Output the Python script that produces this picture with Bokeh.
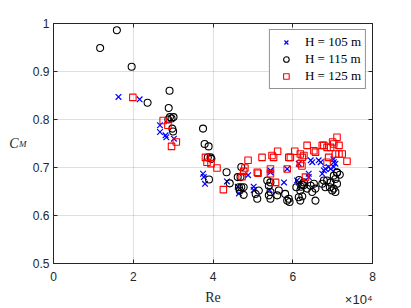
from bokeh.plotting import figure
from bokeh.models import (FixedTicker, LinearAxis, Legend, LegendItem, Title)
from bokeh.embed import file_html
from bokeh.resources import INLINE

# ---- data (Re, C_M) ----
re_105 = [16300, 21600, 26700, 26700, 28100, 28300, 30200,
          37500, 37700, 38000, 43500, 46200, 46500, 48800, 50200, 50200,
          54400, 54400, 54200, 57800, 58600, 61500, 61100, 61500,
          64500, 64900, 64000, 64000, 66500, 67000, 67800, 68200, 67400,
          69000, 69500, 70300, 70300, 70700, 70200]
cm_105 = [0.847, 0.842, 0.788, 0.774, 0.767, 0.763, 0.760,
          0.687, 0.680, 0.666, 0.671, 0.660, 0.646, 0.684, 0.660, 0.653,
          0.694, 0.690, 0.653, 0.669, 0.697, 0.708, 0.673, 0.669,
          0.715, 0.711, 0.687, 0.680, 0.715, 0.711, 0.694, 0.697, 0.687,
          0.701, 0.697, 0.701, 0.711, 0.708, 0.717]

re_115 = [11700, 15900, 19600, 23600,
          29100, 28900, 29200, 28800, 29600, 30100, 29800, 30000,
          37500, 37900, 38900, 38700, 39400, 39600, 39000,
          43400, 44200, 47100, 46200, 46900, 46500, 47100, 47700, 46700, 47700,
          53600, 54400, 54000, 51500, 50700, 51100, 54400, 54000, 54400,
          56500, 56100, 58100, 59000, 58600, 59200,
          60900, 61900, 61500, 61900, 62300, 62700, 61600, 62100,
          62400, 62800, 64500, 65300, 65700, 64900, 65700, 63600,
          67400, 67800, 68600, 69500, 68200, 69300, 70300, 69900, 70700,
          70300, 70700, 71100, 71800, 71100, 71100]
cm_115 = [0.949, 0.986, 0.910, 0.835,
          0.860, 0.824, 0.805, 0.800, 0.802, 0.805, 0.781, 0.775,
          0.781, 0.749, 0.744, 0.721, 0.721, 0.718, 0.675,
          0.690, 0.667, 0.701, 0.680, 0.680, 0.659, 0.659, 0.659, 0.652, 0.643,
          0.673, 0.669, 0.662, 0.652, 0.645, 0.635, 0.649, 0.642, 0.635,
          0.652, 0.642, 0.645, 0.635, 0.631, 0.628,
          0.659, 0.652, 0.638, 0.631, 0.664, 0.663, 0.674, 0.660,
          0.640, 0.669, 0.662, 0.666, 0.656, 0.649, 0.631, 0.656,
          0.666, 0.673, 0.673, 0.669, 0.659, 0.659, 0.656, 0.652, 0.649,
          0.683, 0.676, 0.690, 0.685, 0.666, 0.689]

re_125 = [19900, 27500, 28700, 29600, 30800,
          38100, 38500, 39500, 41000, 42600,
          48000, 47700, 47300, 48800, 51100, 51300, 52300,
          54400, 54400, 54800, 55200, 56200, 55700,
          58600, 59000, 59400, 60500, 61900, 61900, 62300,
          63600, 62800, 62400, 63200, 65300, 65700, 67400, 67800,
          68600, 69500, 70000, 70300, 71100, 71600, 71600, 72400,
          70700, 69000, 68600, 73600]
cm_125 = [0.846, 0.798, 0.788, 0.744, 0.753,
          0.721, 0.711, 0.708, 0.699, 0.654,
          0.699, 0.692, 0.681, 0.715, 0.690, 0.688, 0.721,
          0.697, 0.687, 0.725, 0.721, 0.734, 0.669,
          0.697, 0.721, 0.721, 0.734, 0.728, 0.708, 0.703,
          0.746, 0.725, 0.721, 0.680, 0.735, 0.732, 0.746, 0.746,
          0.742, 0.742, 0.753, 0.749, 0.763, 0.746, 0.728, 0.728,
          0.728, 0.721, 0.711, 0.713]

x_ticks = [0, 20000, 40000, 60000, 80000]
x_tick_labels = ["0", "2", "4", "6", "8"]
y_ticks = [0.5, 0.6, 0.7, 0.8, 0.9, 1.0]
y_tick_labels = ["0.5", "0.6", "0.7", "0.8", "0.9", "1"]
series_labels = ["H = 105 m", "H = 115 m", "H = 125 m"]

AX = "#262626"

p = figure(width=411, height=308, x_range=(0, 80000), y_range=(0.5, 1.0),
           output_backend="svg", toolbar_location=None,
           min_border_left=53, min_border_right=39,
           min_border_top=23, min_border_bottom=45)
p.background_fill_color = "white"
p.border_fill_color = "white"
p.outline_line_color = AX
p.outline_line_width = 1

p.xaxis.ticker = FixedTicker(ticks=x_ticks)
p.yaxis.ticker = FixedTicker(ticks=y_ticks)
p.xaxis.major_label_overrides = dict(zip(x_ticks, x_tick_labels))
p.yaxis.major_label_overrides = dict(zip(y_ticks, y_tick_labels))

for ax in (p.xaxis[0], p.yaxis[0]):
    ax.major_tick_in = 4
    ax.major_tick_out = 0
    ax.minor_tick_in = 0
    ax.minor_tick_out = 0
    ax.axis_line_color = AX
    ax.major_tick_line_color = AX
    ax.major_label_text_color = AX
    ax.major_label_text_font = "Liberation Sans"
    ax.major_label_text_font_size = "12px"
p.xaxis.major_label_standoff = 8
p.yaxis.major_label_standoff = 4

# x label
p.xaxis.axis_label = "Re"
p.xaxis.axis_label_text_font = "Liberation Serif"
p.xaxis.axis_label_text_font_style = "normal"
p.xaxis.axis_label_text_font_size = "14px"
p.xaxis.axis_label_text_color = AX
p.xaxis.axis_label_standoff = 6

# box: top and right axes with ticks only
for loc in ("above", "right"):
    ticks = x_ticks if loc == "above" else y_ticks
    a = LinearAxis(ticker=FixedTicker(ticks=ticks),
                   major_label_overrides={t: "" for t in ticks},
                   major_tick_in=4, major_tick_out=0, minor_tick_in=0, minor_tick_out=0,
                   axis_line_color=AX, major_tick_line_color=AX,
                   major_label_standoff=0)
    p.add_layout(a, loc)

# y label "C_M": two label-only axes, M next to tick labels, C outside it
for txt, size, standoff, baseline in (("M", "9px", 3, "middle"), ("C", "14px", -2, "bottom")):
    a = LinearAxis(ticker=FixedTicker(ticks=[]), axis_line_color=None,
                   major_tick_line_color=None, minor_tick_line_color=None,
                   major_tick_in=0, major_tick_out=0, minor_tick_in=0, minor_tick_out=0,
                   major_label_standoff=0,
                   axis_label=txt, axis_label_orientation="horizontal",
                   axis_label_text_font="Liberation Serif",
                   axis_label_text_font_style="italic",
                   axis_label_text_font_size=size, axis_label_text_color=AX,
                   axis_label_standoff=standoff,
                   axis_label_text_baseline=baseline)
    p.add_layout(a, "left")

# x10^4 multiplier under the right end of the x axis
p.add_layout(Title(text="×10⁴", align="right", vertical_align="top",
                   text_font="Liberation Sans", text_font_size="13px",
                   text_font_style="normal", text_color=AX, standoff=-31), "below")

p.xgrid.ticker = FixedTicker(ticks=x_ticks)
p.ygrid.ticker = FixedTicker(ticks=y_ticks)
p.grid.grid_line_color = AX
p.grid.grid_line_alpha = 0.15
p.grid.grid_line_width = 1

r1 = p.scatter(re_105, cm_105, marker="x", size=8, line_color="blue", line_width=1.2)
r2 = p.scatter(re_115, cm_115, marker="circle", size=7, line_color="black",
               fill_color=None, line_width=1.1)
r3 = p.scatter(re_125, cm_125, marker="square", size=6.5, line_color="red",
               fill_color=None, line_width=1.1)

legend = Legend(items=[LegendItem(label=series_labels[0], renderers=[r1]),
                       LegendItem(label=series_labels[1], renderers=[r2]),
                       LegendItem(label=series_labels[2], renderers=[r3])],
                location="top_right")
legend.margin = 6
legend.padding = 4
legend.spacing = 1
legend.glyph_width = 24
legend.glyph_height = 14
legend.label_height = 14
legend.label_standoff = 7
legend.label_text_font = "Liberation Serif"
legend.label_text_font_size = "13px"
legend.label_text_color = "black"
legend.border_line_color = AX
legend.border_line_width = 1
legend.background_fill_color = "white"
legend.background_fill_alpha = 1
p.add_layout(legend)

open("out.html", "w").write(file_html(p, INLINE))
